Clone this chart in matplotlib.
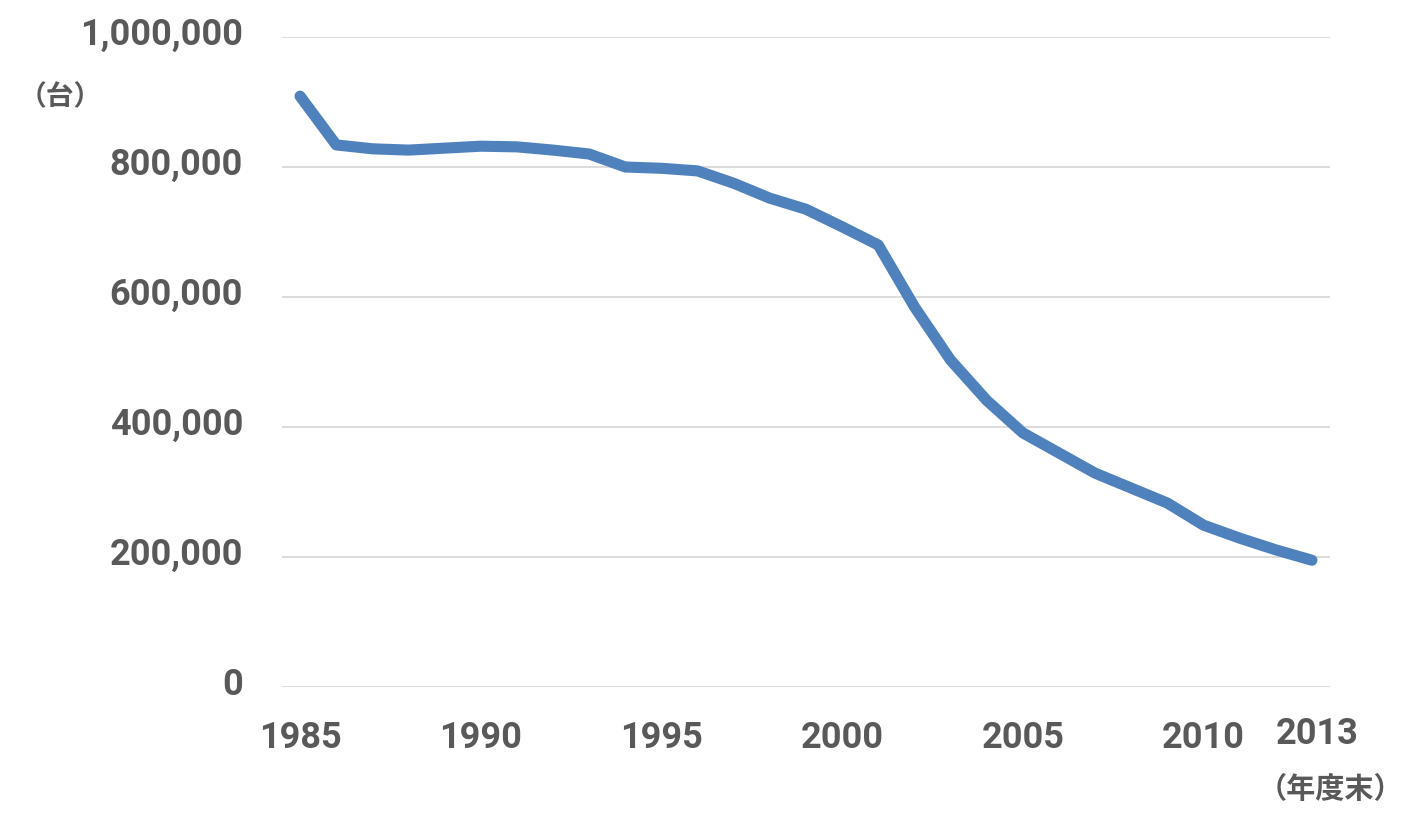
import matplotlib
matplotlib.use("Agg")
import matplotlib.pyplot as plt
from matplotlib import font_manager as fm
from matplotlib.ticker import FuncFormatter
from matplotlib.transforms import ScaledTranslation

years = list(range(1985, 2014))
values = [909000, 834000, 828000, 826000, 829000, 832000, 831000, 826000, 820000,
          800000, 798000, 794000, 775000, 752000, 735000, 708000, 680000, 585000,
          503000, 441000, 391000, 360000, 329000, 306000, 283000, 249000, 229000,
          211000, 195000]
xtick_years = [1985, 1990, 1995, 2000, 2005, 2010, 2013]
yticks = [0, 200000, 400000, 600000, 800000, 1000000]

names = {f.name for f in fm.fontManager.ttflist}
num_font = "Liberation Sans Narrow" if "Liberation Sans Narrow" in names else "Roboto"
cjk = ["Noto Sans CJK JP", "DejaVu Sans"]
gray = "#595959"

fig = plt.figure(figsize=(14.22, 8.26), dpi=100)
ax = fig.add_axes([282/1422, 139/826, (1330-282)/1422, (687-37)/826])
ax.plot(years, values, color="#4F81BD", lw=8, solid_capstyle="round", solid_joinstyle="round")
ax.set_xlim(1984.5, 2013.5)
ax.set_ylim(0, 1000000)
ax.set_yticks(yticks)
ax.yaxis.set_major_formatter(FuncFormatter(lambda v, p: f"{int(v):,}"))
ax.set_xticks(xtick_years)
ax.grid(axis="y", color="#D9D9D9", lw=1.3)
ax.set_axisbelow(True)
for s in ax.spines.values():
    s.set_visible(False)
ax.tick_params(length=0)
ax.tick_params(axis="y", pad=28)
ax.tick_params(axis="x", pad=24)
for lab in ax.get_yticklabels() + ax.get_xticklabels():
    lab.set_fontfamily(num_font)
    lab.set_fontweight("bold")
    lab.set_fontsize(26)
    lab.set_color(gray)
for lab in ax.get_yticklabels():
    lab.set_transform(lab.get_transform() + ScaledTranslation(0, 6/100, fig.dpi_scale_trans))
xl = ax.get_xticklabels()[-1]
xl.set_transform(xl.get_transform() + ScaledTranslation(5/100, 4/100, fig.dpi_scale_trans))

fig.text(60/1422, 1 - 97/826, "（台）", family=cjk, fontweight="bold", fontsize=20,
         color=gray, ha="center", va="center")
fig.text(1330/1422, 1 - 789/826, "（年度末）", family=cjk, fontweight="bold", fontsize=21,
         color=gray, ha="center", va="center")

fig.savefig("out.png", dpi=100)
